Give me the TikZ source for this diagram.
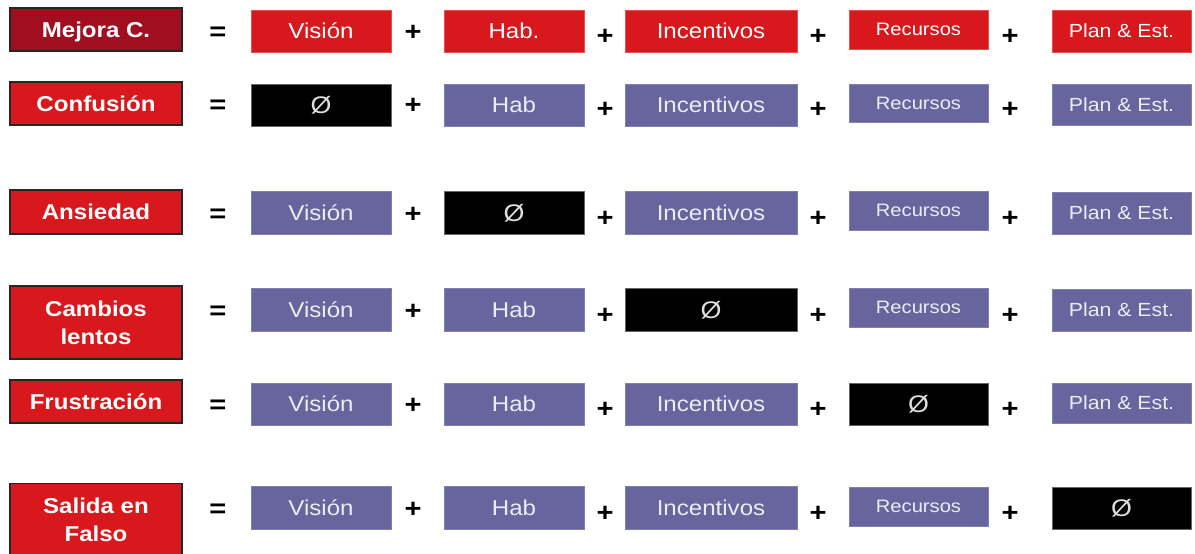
\documentclass[tikz,border=0pt]{standalone}
\usepackage{fontspec}
\setmainfont{Liberation Sans}[FakeStretch=1.12]
\definecolor{dred}{RGB}{160,14,32}
\definecolor{bred}{RGB}{216,24,28}
\definecolor{purp}{RGB}{103,101,158}
\definecolor{purpline}{RGB}{128,126,178}
\definecolor{redline}{RGB}{232,80,80}
\definecolor{ptext}{RGB}{236,236,244}
\definecolor{zerotext}{RGB}{222,222,222}
\tikzset{
  lab/.style={draw=black!85, line width=1.4pt, fill=bred, text=white, inner sep=0pt,
    minimum width=172pt, align=center,
    font=\fontsize{21.5}{28}\selectfont\bfseries},
  one/.style={text height=15.4pt, text depth=0pt},
  cbox/.style={inner sep=0pt, line width=0.6pt},
  redb/.style={cbox, fill=bred, draw=redline, text=white},
  purb/.style={cbox, fill=purp, draw=purpline, text=ptext},
  nullb/.style={cbox, fill=black, draw=black!60, text=zerotext,
    font=\fontsize{24}{26}\selectfont, text height=17.2pt, text depth=0pt},
  big/.style={font=\fontsize{21.5}{24}\selectfont, text height=15.4pt, text depth=0pt},
  rec/.style={font=\fontsize{18}{21}\selectfont, text height=12.9pt, text depth=0pt},
  pln/.style={font=\fontsize{19}{22}\selectfont, text height=13.6pt, text depth=0pt},
  op/.style={inner sep=0pt, anchor=base, text=black, font=\fontsize{26}{28}\selectfont\bfseries},
  w1/.style={minimum width=140pt},
  w3/.style={minimum width=172pt},
  w4/.style={minimum width=139pt},
}
\begin{document}
\begin{tikzpicture}[x=1pt,y=-1pt]
\useasboundingbox[fill=white] (0,0) rectangle (1195,554);
% ---------- left labels ----------
\node[lab, one, fill=dred, minimum height=43pt] (L1) at (96,29.5) {Mejora C.};
\node[lab, one, minimum height=43pt] (L2) at (96,103.5) {Confusión};
\node[lab, one, minimum height=44pt] (L3) at (96,212) {Ansiedad};
\node[lab, minimum height=73pt] (L4) at (96,322.5) {Cambios\\lentos};
\node[lab, one, minimum height=43pt] (L5) at (96,401.5) {Frustración};
\node[lab, minimum height=73pt] (L6) at (96,520) {Salida en\\Falso};
% ---------- equals ----------
\node[op] (E1) at (218,31+9.2) {=};
\node[op] (E2) at (218,104+9.2) {=};
\node[op] (E3) at (218,213+9.2) {=};
\node[op] (E4) at (218,310+9.2) {=};
\node[op] (E5) at (218,404+9.2) {=};
\node[op] (E6) at (218,508+9.2) {=};
% ---------- row 1 ----------
\node[redb, big, w1, minimum height=42pt] (A1) at (321,31) {Visión};
\node[redb, big, w1, minimum height=42pt] (B1) at (514,31) {Hab.};
\node[redb, big, w3, minimum height=42pt] (C1) at (711,31) {Incentivos};
\node[redb, rec, w4, minimum height=39pt] (D1) at (918.5,29.5) {Recursos};
\node[redb, pln, w4, minimum height=42pt] (F1) at (1121.5,31) {Plan \& Est.};
% ---------- row 2 ----------
\node[nullb, w1, minimum height=42pt] (A2) at (321,105) {Ø};
\node[purb, big, w1, minimum height=42pt] (B2) at (514,105) {Hab};
\node[purb, big, w3, minimum height=42pt] (C2) at (711,105) {Incentivos};
\node[purb, rec, w4, minimum height=38pt] (D2) at (918.5,103) {Recursos};
\node[purb, pln, w4, minimum height=41pt] (F2) at (1121.5,104.5) {Plan \& Est.};
% ---------- row 3 ----------
\node[purb, big, w1, minimum height=43pt] (A3) at (321,212.5) {Visión};
\node[nullb, w1, minimum height=43pt] (B3) at (514,212.5) {Ø};
\node[purb, big, w3, minimum height=43pt] (C3) at (711,212.5) {Incentivos};
\node[purb, rec, w4, minimum height=39pt] (D3) at (918.5,210.5) {Recursos};
\node[purb, pln, w4, minimum height=42pt] (F3) at (1121.5,213) {Plan \& Est.};
% ---------- row 4 ----------
\node[purb, big, w1, minimum height=43pt] (A4) at (321,309.5) {Visión};
\node[purb, big, w1, minimum height=43pt] (B4) at (514,309.5) {Hab};
\node[nullb, w3, minimum height=43pt] (C4) at (711,309.5) {Ø};
\node[purb, rec, w4, minimum height=39pt] (D4) at (918.5,307.5) {Recursos};
\node[purb, pln, w4, minimum height=42pt] (F4) at (1121.5,310) {Plan \& Est.};
% ---------- row 5 ----------
\node[purb, big, w1, minimum height=42pt] (A5) at (321,404) {Visión};
\node[purb, big, w1, minimum height=42pt] (B5) at (514,404) {Hab};
\node[purb, big, w3, minimum height=42pt] (C5) at (711,404) {Incentivos};
\node[nullb, w4, minimum height=42pt] (D5) at (918.5,404) {Ø};
\node[purb, pln, w4, minimum height=40pt] (F5) at (1121.5,403) {Plan \& Est.};
% ---------- row 6 ----------
\node[purb, big, w1, minimum height=43pt] (A6) at (321,507.5) {Visión};
\node[purb, big, w1, minimum height=43pt] (B6) at (514,507.5) {Hab};
\node[purb, big, w3, minimum height=43pt] (C6) at (711,507.5) {Incentivos};
\node[purb, rec, w4, minimum height=39pt] (D6) at (918.5,506.5) {Recursos};
\node[nullb, w4, minimum height=42pt] (F6) at (1121.5,508) {Ø};
% ---------- plus signs ----------
\foreach \r/\y in {1/31,2/104,3/213,4/310,5/404,6/508}{
  \node[op] (P\r a) at (413,\y+9.2) {+};
  \node[op] (P\r b) at (605,\y+13.2) {+};
  \node[op] (P\r c) at (818,\y+13.2) {+};
  \node[op] (P\r d) at (1010,\y+13.2) {+};
}
\end{tikzpicture}
\end{document}
